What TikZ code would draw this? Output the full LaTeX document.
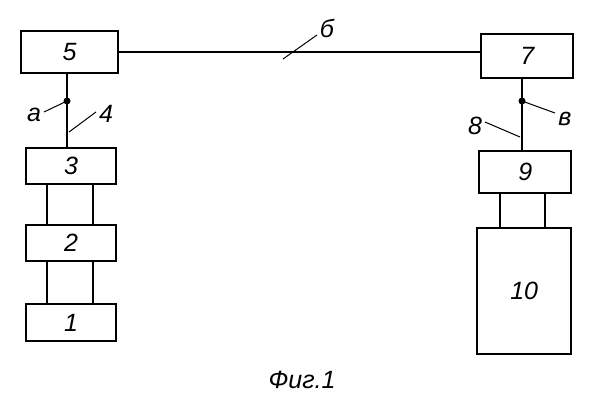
\documentclass[tikz,border=0pt]{standalone}
\usepackage{fontspec}
\setmainfont{Liberation Sans}
\begin{document}
\begin{tikzpicture}[x=1pt,y=-1pt,
  blk/.style={draw,line width=2.4pt,anchor=north west,inner sep=0pt},
  ln/.style={line width=2.4pt},
  lead/.style={line width=1pt},
  lbl/.style={font=\itshape\fontsize{25}{25}\selectfont},
  dotn/.style={circle,fill,inner sep=0pt,minimum size=7pt}]
\useasboundingbox (0,0) rectangle (600,404);
\node[blk,minimum width=97pt,minimum height=42pt] (b5) at (20,30) {};
\node[lbl] at (b5.center) {5};
\node[blk,minimum width=90pt,minimum height=36pt] (b3) at (25,147) {};
\node[lbl] at (b3.center) {3};
\node[blk,minimum width=90pt,minimum height=36pt] (b2) at (25,224) {};
\node[lbl] at (b2.center) {2};
\node[blk,minimum width=90pt,minimum height=37pt] (b1) at (25,303) {};
\node[lbl] at (b1.center) {1};
\node[blk,minimum width=92pt,minimum height=44pt] (b7) at (480,33) {};
\node[lbl] at (b7.center) {7};
\node[blk,minimum width=92pt,minimum height=42pt] (b9) at (478,150) {};
\node[lbl] at (b9.center) {9};
\node[blk,minimum width=94pt,minimum height=126pt] (b10) at (476,227) {};
\node[lbl] at (b10.center) {10};
% connections
\foreach \x in {47,93}{
  \draw[ln] (\x,183) -- (\x,224);
  \draw[ln] (\x,260) -- (\x,303);}
\foreach \x in {500,545}{\draw[ln] (\x,192) -- (\x,227);}
\coordinate (d1) at (67,101);
\draw[ln] (67,72) -- (67,147);
\node[dotn] at (d1) {};
\coordinate (d2) at (522,101);
\draw[ln] (522,77) -- (522,150);
\node[dotn] at (d2) {};
\draw[ln] (b5.east) -- (b7.west|-b5.east);
% labels
\node[lbl] (la) at (34,115) {а};
\draw[lead] (44,112) -- (d1);
\node[lbl] (l4) at (106,114) {4};
\draw[lead] (96,112) -- (69,132);
\node[lbl] (l6) at (327,28) {б};
\draw[lead] (317,35) -- (283,59);
\node[lbl] (lv) at (565,119) {в};
\draw[lead] (555,113) -- (d2);
\node[lbl] (l8) at (475,126) {8};
\draw[lead] (485,122) -- (520,137);
\node[lbl] at (302,380) {Фиг.1};
\end{tikzpicture}
\end{document}
